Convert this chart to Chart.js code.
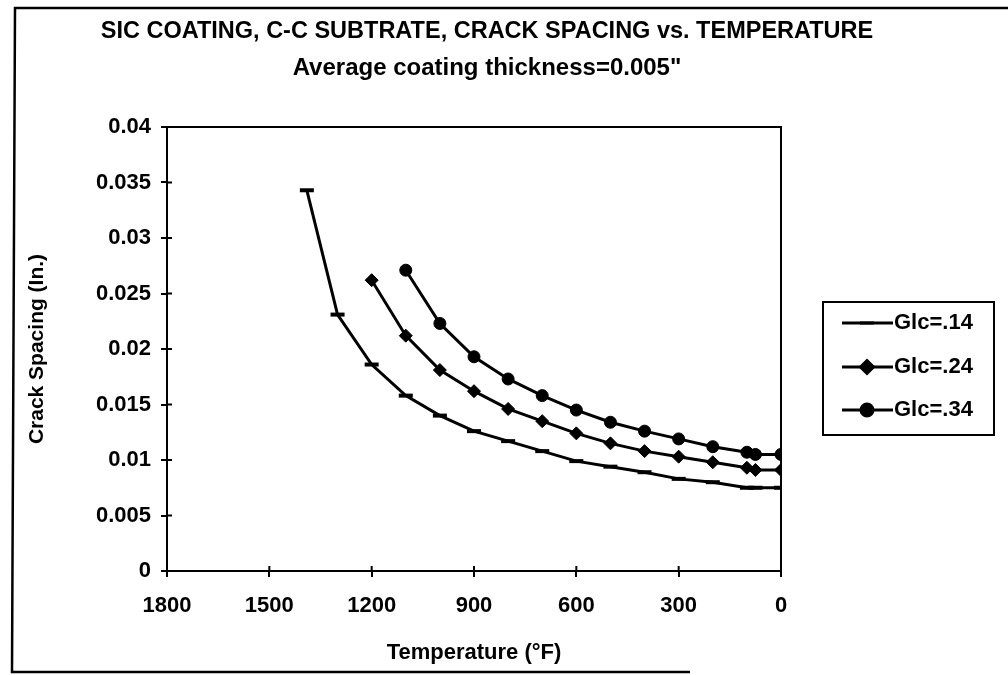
<!DOCTYPE html>
<html>
<head>
<meta charset="utf-8">
<script src="https://cdn.jsdelivr.net/npm/chart.js@4.4.1/dist/chart.umd.min.js"></script>
<style>
  html, body { margin: 0; padding: 0; background: #fff; }
  #wrap { width: 1008px; height: 675px; }
</style>
</head>
<body>
<div id="wrap"><canvas id="crack_chart" width="1008" height="675"></canvas></div>
<script>
// temperatures (deg F) and crack spacing (in.)
var tempLow = [1390, 1300, 1200, 1100, 1000, 900, 800, 700, 600, 500, 400, 300, 200, 100, 75, 0];
var glc14 = [0.0343, 0.0231, 0.0186, 0.0158, 0.0140, 0.0126, 0.0117, 0.0108, 0.0099, 0.0094, 0.0089, 0.0083, 0.0080, 0.0075, 0.0075, 0.0075];

var tempMid = [1200, 1100, 1000, 900, 800, 700, 600, 500, 400, 300, 200, 100, 75, 0];
var glc24 = [0.0262, 0.0212, 0.0181, 0.0162, 0.0146, 0.0135, 0.0124, 0.0115, 0.0108, 0.0103, 0.0098, 0.0093, 0.0091, 0.0091];

var tempHigh = [1100, 1000, 900, 800, 700, 600, 500, 400, 300, 200, 100, 75, 0];
var glc34 = [0.0271, 0.0223, 0.0193, 0.0173, 0.0158, 0.0145, 0.0134, 0.0126, 0.0119, 0.0112, 0.0107, 0.0105, 0.0105];

var seriesNames = ['Glc=.14', 'Glc=.24', 'Glc=.34'];
var xTicks = [1800, 1500, 1200, 900, 600, 300, 0];

var titleText = 'SIC COATING, C-C SUBTRATE, CRACK SPACING vs. TEMPERATURE';
var subtitleText = 'Average coating thickness=0.005"';

var FONT = '"Liberation Sans", Arial, sans-serif';

function pts(xs, ys) {
  return xs.map(function (x, i) { return { x: x, y: ys[i] }; });
}

function series(label, data, style, radius, bw) {
  return {
    label: label,
    data: data,
    borderColor: '#000',
    backgroundColor: '#000',
    borderWidth: 3,
    pointStyle: style,
    pointRadius: radius,
    pointBorderWidth: bw,
    pointBorderColor: '#000',
    pointBackgroundColor: '#000',
    tension: 0
  };
}

// page frame, titles, plot box and the legend
var pagePlugin = {
  id: 'page',
  beforeDraw: function (chart) {
    var c = chart.ctx;
    c.save();
    c.fillStyle = '#fff';
    c.fillRect(0, 0, chart.width, chart.height);
    c.strokeStyle = '#000';
    c.lineWidth = 2.5;
    c.beginPath();
    c.moveTo(1008, 8);
    c.lineTo(15, 8);
    c.lineTo(12, 672);
    c.lineTo(690, 672);
    c.stroke();

    c.fillStyle = '#000';
    c.textAlign = 'center';
    c.textBaseline = 'middle';
    c.font = 'bold 23.5px ' + FONT;
    c.fillText(titleText, 487, 32);
    c.font = 'bold 24px ' + FONT;
    c.fillText(subtitleText, 487, 68);
    c.restore();
  },
  afterDraw: function (chart) {
    var c = chart.ctx, a = chart.chartArea;
    c.save();
    c.strokeStyle = '#000';
    c.lineWidth = 2;
    c.strokeRect(a.left, a.top, a.right - a.left, a.bottom - a.top);
    // tick stubs inside the plot, like the original
    var xs = chart.scales.x, ys = chart.scales.y;
    c.beginPath();
    xs.ticks.forEach(function (t, i) {
      var px = xs.getPixelForTick(i);
      c.moveTo(px, a.bottom); c.lineTo(px, a.bottom - 5);
    });
    ys.ticks.forEach(function (t, i) {
      var py = ys.getPixelForTick(i);
      c.moveTo(a.left, py); c.lineTo(a.left + 5, py);
    });
    c.stroke();

    // legend box
    var bx = 823, by = 302, bw = 171, bh = 133;
    c.lineWidth = 2;
    c.strokeRect(bx, by, bw, bh);
    var rows = [323, 367, 410];
    chart.data.datasets.forEach(function (ds, i) {
      var y = rows[i];
      c.strokeStyle = '#000';
      c.lineWidth = 3;
      c.beginPath();
      c.moveTo(842, y); c.lineTo(893, y);
      c.stroke();
      Chart.helpers.drawPoint(c, {
        pointStyle: ds.pointStyle,
        radius: ds.pointRadius,
        borderWidth: ds.pointBorderWidth,
        rotation: 0
      }, 867, y);
      c.fillStyle = '#000';
      c.font = 'bold 22px ' + FONT;
      c.textBaseline = 'middle';
      c.textAlign = 'left';
      c.fillText(ds.label, 894, y);
    });
    c.restore();
  }
};

Chart.defaults.font.family = FONT;
Chart.defaults.color = '#000';

new Chart(document.getElementById('crack_chart').getContext('2d'), {
  type: 'line',
  data: {
    datasets: [
      series(seriesNames[0], pts(tempLow, glc14), 'line', 7, 4),
      series(seriesNames[1], pts(tempMid, glc24), 'rectRot', 6.5, 1),
      series(seriesNames[2], pts(tempHigh, glc34), 'circle', 6, 1)
    ]
  },
  options: {
    responsive: false,
    animation: false,
    layout: { padding: { left: 12, right: 227, top: 127, bottom: 8 } },
    plugins: {
      legend: { display: false },
      tooltip: { enabled: false },
      title: { display: false },
      subtitle: { display: false }
    },
    scales: {
      x: {
        type: 'linear',
        reverse: true,
        min: 0,
        max: 1800,
        afterBuildTicks: function (s) { s.ticks = xTicks.map(function (v) { return { value: v }; }); },
        afterFit: function (s) { s.height = 96; },
        ticks: {
          font: { size: 22, weight: 'bold' },
          padding: 16,
          callback: function (v) { return String(v); }
        },
        grid: { drawOnChartArea: false, drawTicks: true, tickLength: 6, color: '#000', lineWidth: 2 },
        border: { color: '#000', width: 2 },
        title: {
          display: true,
          text: 'Temperature (°F)',
          font: { size: 22, weight: 'bold' },
          padding: { top: 0, bottom: 1 }
        }
      },
      y: {
        min: 0,
        max: 0.04,
        ticks: {
          stepSize: 0.005,
          font: { size: 22, weight: 'bold' },
          padding: 10,
          callback: function (v) { return String(+v.toFixed(3)); }
        },
        afterFit: function (s) { s.width = 155; },
        grid: { drawOnChartArea: false, drawTicks: true, tickLength: 6, color: '#000', lineWidth: 2 },
        border: { color: '#000', width: 2 },
        title: {
          display: true,
          text: 'Crack Spacing (In.)',
          font: { size: 21, weight: 'bold' },
          padding: { top: 13, bottom: 0 }
        }
      }
    }
  },
  plugins: [pagePlugin]
});
</script>
</body>
</html>
